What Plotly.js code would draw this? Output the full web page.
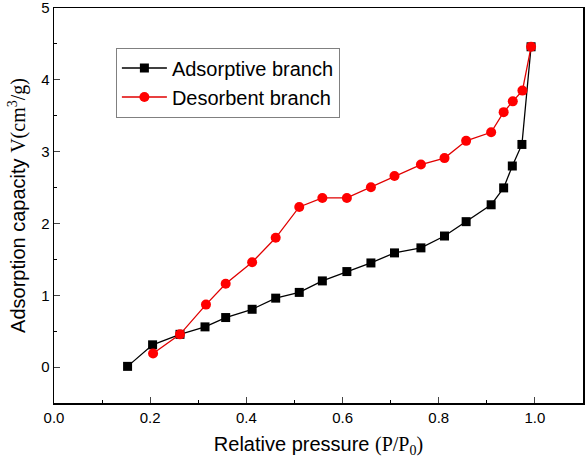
<!DOCTYPE html>
<html><head><meta charset="utf-8">
<script src="https://cdn.plot.ly/plotly-3.0.1.min.js"></script>
<style>body{margin:0;padding:0;background:#fff}</style>
</head><body>
<div id="chart" style="width:585px;height:467px"></div>
<script>
var adsX = [0.153,0.205,0.262,0.314,0.357,0.412,0.461,0.510,0.558,0.609,0.659,0.708,0.763,0.812,0.857,0.909,0.935,0.953,0.973,0.992];
var adsY = [0.01,0.31,0.456,0.56,0.69,0.805,0.96,1.04,1.20,1.33,1.45,1.59,1.66,1.825,2.025,2.26,2.495,2.80,3.10,4.46];
var desX = [0.206,0.262,0.316,0.357,0.412,0.461,0.510,0.558,0.609,0.659,0.708,0.763,0.812,0.857,0.909,0.935,0.954,0.974,0.992];
var desY = [0.19,0.456,0.87,1.16,1.46,1.80,2.23,2.355,2.355,2.505,2.66,2.82,2.91,3.15,3.27,3.55,3.70,3.85,4.46];
var xTicks = [0.0,0.2,0.4,0.6,0.8,1.0];
var xTickText = ['0.0','0.2','0.4','0.6','0.8','1.0'];
var yTicks = [0,1,2,3,4,5];

var traces = [
 {x: adsX, y: adsY, name: 'Adsorptive branch', mode: 'lines+markers', type: 'scatter',
  line: {color: '#000000', width: 1.3}, marker: {symbol: 'square', size: 9, color: '#000000'}},
 {x: desX, y: desY, name: 'Desorbent branch', mode: 'lines+markers', type: 'scatter',
  line: {color: '#e00000', width: 1.3}, marker: {symbol: 'circle', size: 10, color: '#ff0000'}}
];
var font = 'Liberation Sans, Arial, sans-serif';
var layout = {
  width: 585, height: 467,
  margin: {l: 54, r: 2, t: 8, b: 64},
  paper_bgcolor: '#fff', plot_bgcolor: '#fff',
  font: {family: font, color: '#000', size: 15},
  showlegend: true,
  legend: {x: 0.117, y: 0.9, xanchor: 'left', yanchor: 'top', bordercolor: '#808080', borderwidth: 1,
    font: {size: 20, family: font}, bgcolor: '#fff', tracegroupgap: 0, itemwidth: 45},
  xaxis: {range: [0, 1.1], tickvals: xTicks, ticktext: xTickText, ticks: 'inside', ticklen: 6, tickwidth: 1,
    showline: true, linecolor: '#000', linewidth: 1.5, mirror: true, showgrid: false, zeroline: false,
    tickfont: {size: 15}, ticklabeloverflow: 'allow',
    minor: {dtick: 0.1, ticks: 'inside', ticklen: 3, tickcolor: '#000', showgrid: false},
    title: {text: "Relative pressure <span style='font-family:Liberation Serif'>(P/P<sub>0</sub>)</span>", font: {size: 20}, standoff: 12}},
  yaxis: {range: [-0.5, 5], tickvals: yTicks, ticks: 'inside', ticklen: 6, tickwidth: 1,
    showline: true, linecolor: '#000', linewidth: 1.5, mirror: true, showgrid: false, zeroline: false,
    tickfont: {size: 15}, ticklabeloverflow: 'allow',
    minor: {dtick: 0.5, ticks: 'inside', ticklen: 3, tickcolor: '#000', showgrid: false},
    title: {text: "Adsorption capacity <span style='font-family:Liberation Serif'>V(cm<sup>3</sup>/g)</span>", font: {size: 20}, standoff: 10}}
};
Plotly.newPlot('chart', traces, layout, {displayModeBar: false, staticPlot: true});
</script>
</body></html>
